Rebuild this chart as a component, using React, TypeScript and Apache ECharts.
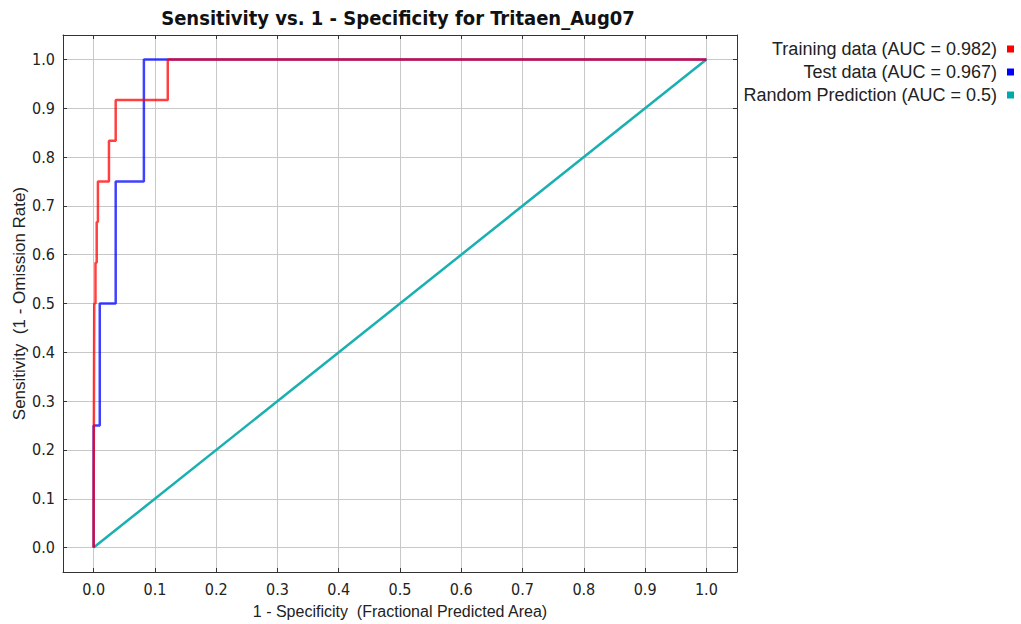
import React, { useEffect, useRef } from "react";
import * as echarts from "echarts";

const xTicks = [0, 0.1, 0.2, 0.3, 0.4, 0.5, 0.6, 0.7, 0.8, 0.9, 1.0];
const yTicks = [0, 0.1, 0.2, 0.3, 0.4, 0.5, 0.6, 0.7, 0.8, 0.9, 1.0];

const trainingData: [number, number][] = [
  [0, 0], [0, 0.0833], [0.001, 0.0833], [0.001, 0.5], [0.003, 0.5], [0.003, 0.5833],
  [0.005, 0.5833], [0.005, 0.6667], [0.007, 0.6667], [0.007, 0.75], [0.025, 0.75],
  [0.025, 0.8333], [0.036, 0.8333], [0.036, 0.9167], [0.121, 0.9167], [0.121, 1], [1, 1],
];
const testData: [number, number][] = [
  [0, 0], [0, 0.25], [0.01, 0.25], [0.01, 0.5], [0.036, 0.5], [0.036, 0.75],
  [0.082, 0.75], [0.082, 1], [1, 1],
];
const randomData: [number, number][] = [[0, 0], [1, 1]];

const seriesNames = [
  "Training data (AUC = 0.982)",
  "Test data (AUC = 0.967)",
  "Random Prediction (AUC = 0.5)",
];

const SANS = "'Liberation Sans', Arial, sans-serif";
const COND = "'DejaVu Sans Condensed', 'Liberation Sans Narrow', 'Liberation Sans', sans-serif";

export default function App() {
  const ref = useRef<HTMLDivElement>(null);
  useEffect(() => {
    document.body.style.margin = "0";
    const chart = echarts.init(ref.current!, null, { renderer: "svg" });
    const axisCommon = {
      type: "value" as const,
      min: -0.05,
      max: 1.05,
      axisLine: { show: true, onZero: false, lineStyle: { color: "#333", width: 1 } },
      axisTick: { show: true, inside: true, length: 4, customValues: xTicks, lineStyle: { color: "#333" } },
      splitLine: { show: true, lineStyle: { color: "#c8c8c8", width: 1 } },
    };
    const labelCommon = {
      formatter: (v: number) => v.toFixed(1),
      fontSize: 16,
      color: "#222",
      fontFamily: COND,
    };
    chart.setOption({
      animation: false,
      textStyle: { fontFamily: SANS },
      graphic: [
        {
          type: "text",
          x: 398,
          y: 18,
          style: {
            text: "Sensitivity vs. 1 - Specificity for Tritaen_Aug07",
            font: `bold 20px ${COND}`,
            fill: "#111",
            textAlign: "center",
            textVerticalAlign: "middle",
          },
        },
      ],
      legend: {
        orient: "vertical",
        right: 2,
        top: 35,
        align: "right",
        icon: "rect",
        itemWidth: 7,
        itemHeight: 7,
        itemGap: 5,
        textStyle: { fontSize: 18, color: "#222", fontFamily: SANS, padding: [0, 5, 0, 0] },
        data: seriesNames,
      },
      grid: { left: 63, right: 284, top: 35, bottom: 52, containLabel: false, outerBoundsMode: "none" },
      xAxis: [
        {
          ...axisCommon,
          position: "bottom",
          name: "1 - Specificity  (Fractional Predicted Area)",
          nameLocation: "middle",
          nameGap: 31,
          nameMoveOverlap: false,
          nameTextStyle: { fontSize: 16, color: "#222", fontFamily: SANS },
          axisLabel: { ...labelCommon, customValues: xTicks, margin: 9 },
        },
        {
          ...axisCommon,
          position: "top",
          splitLine: { show: false },
          axisLabel: { show: false },
        },
      ],
      yAxis: [
        {
          ...axisCommon,
          position: "left",
          axisTick: { ...axisCommon.axisTick, customValues: yTicks },
          name: "Sensitivity  (1 - Omission Rate)",
          nameLocation: "middle",
          nameGap: 35,
          nameMoveOverlap: false,
          nameTextStyle: { fontSize: 17, color: "#222", fontFamily: SANS },
          axisLabel: { ...labelCommon, customValues: yTicks, margin: 8 },
        },
        {
          ...axisCommon,
          position: "right",
          axisTick: { ...axisCommon.axisTick, customValues: yTicks },
          splitLine: { show: false },
          axisLabel: { show: false },
        },
      ],
      series: [
        {
          name: seriesNames[2],
          type: "line",
          data: randomData,
          showSymbol: false,
          color: "#00aaaa",
          lineStyle: { color: "#1bb0b0", width: 2.5 },
        },
        {
          name: seriesNames[1],
          type: "line",
          data: testData,
          showSymbol: false,
          color: "#0000ff",
          lineStyle: { color: "#0000ff", width: 2.5, opacity: 0.75 },
        },
        {
          name: seriesNames[0],
          type: "line",
          data: trainingData,
          showSymbol: false,
          color: "#ff0000",
          lineStyle: { color: "#ff0000", width: 2.5, opacity: 0.75 },
        },
      ],
    });
    return () => chart.dispose();
  }, []);
  return <div ref={ref} style={{ width: 1021, height: 624 }} />;
}
